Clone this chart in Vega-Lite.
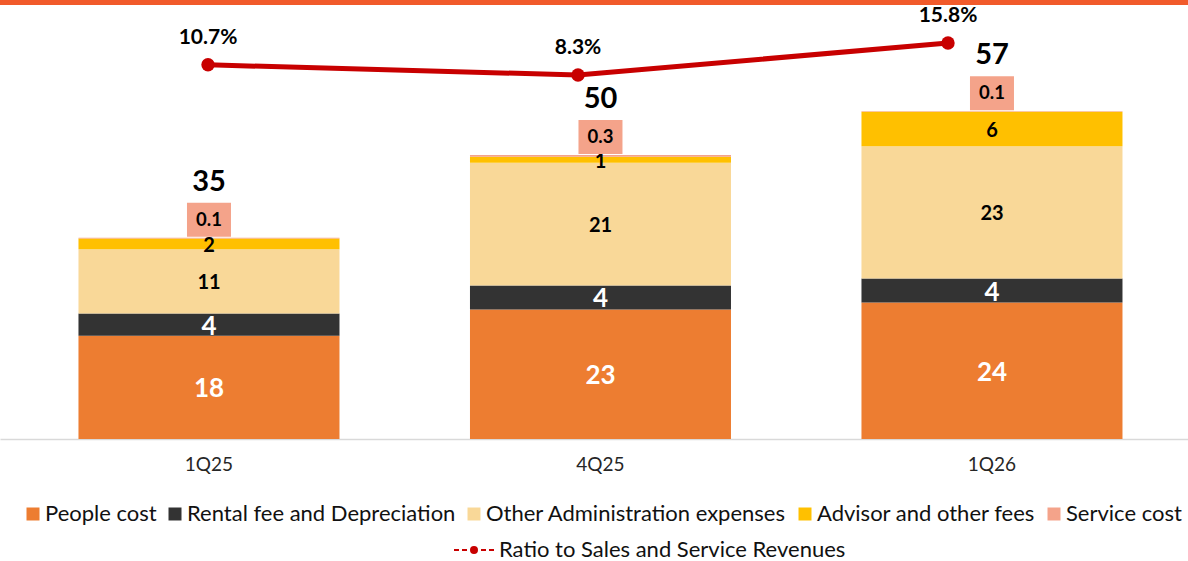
{
  "$schema": "https://vega.github.io/schema/vega-lite/v6.json",
  "width": 1188,
  "height": 439,
  "autosize": {"type": "none"},
  "padding": {"left": 0, "top": 0, "right": 0, "bottom": 122},
  "background": "white",
  "config": {
    "view": {"stroke": null},
    "font": "Lato",
    "text": {"font": "Lato"}
  },
  "datasets": {
    "costs": [
      {"q": "1Q25", "cat": "People cost", "k": 1, "value": 18},
      {"q": "1Q25", "cat": "Rental fee and Depreciation", "k": 2, "value": 3.9},
      {"q": "1Q25", "cat": "Other Administration expenses", "k": 3, "value": 11.2},
      {"q": "1Q25", "cat": "Advisor and other fees", "k": 4, "value": 1.9},
      {"q": "1Q25", "cat": "Service cost", "k": 5, "value": 0.1},
      {"q": "4Q25", "cat": "People cost", "k": 1, "value": 22.6},
      {"q": "4Q25", "cat": "Rental fee and Depreciation", "k": 2, "value": 4.2},
      {"q": "4Q25", "cat": "Other Administration expenses", "k": 3, "value": 21.4},
      {"q": "4Q25", "cat": "Advisor and other fees", "k": 4, "value": 1.05},
      {"q": "4Q25", "cat": "Service cost", "k": 5, "value": 0.3},
      {"q": "1Q26", "cat": "People cost", "k": 1, "value": 23.8},
      {"q": "1Q26", "cat": "Rental fee and Depreciation", "k": 2, "value": 4.2},
      {"q": "1Q26", "cat": "Other Administration expenses", "k": 3, "value": 23.1},
      {"q": "1Q26", "cat": "Advisor and other fees", "k": 4, "value": 6.0},
      {"q": "1Q26", "cat": "Service cost", "k": 5, "value": 0.1}
    ],
    "ratio": [
      {"q": "1Q25", "ratio": 0.107},
      {"q": "4Q25", "ratio": 0.083},
      {"q": "1Q26", "ratio": 0.158}
    ]
  },
  "layer": [
    {
      "data": {"name": "costs"},
      "transform": [
        {"stack": "value", "groupby": ["q"], "sort": [{"field": "k", "order": "ascending"}], "as": ["v0", "v1"]}
      ],
      "layer": [
        {
          "mark": {"type": "bar"},
          "encoding": {
            "x": {
              "field": "q", "type": "nominal", "sort": ["1Q25", "4Q25", "1Q26"],
              "scale": {"type": "band", "paddingInner": 0.3333, "paddingOuter": 0.1839, "align": 0.545},
              "axis": {
                "title": null, "ticks": false, "grid": false, "labelAngle": 0,
                "labelFont": "Lato", "labelFontSize": 19, "labelColor": "#262626", "labelPadding": 16,
                "domainColor": "#D9D9D9", "domainWidth": 1.5
              }
            },
            "y": {"field": "v1", "type": "quantitative", "scale": {"domain": [0, 76.6], "nice": false, "zero": false}, "axis": null},
            "y2": {"field": "v0"},
            "color": {
              "field": "cat", "type": "nominal",
              "scale": {
                "domain": ["People cost", "Rental fee and Depreciation", "Other Administration expenses", "Advisor and other fees", "Service cost"],
                "range": ["#ED7D31", "#333333", "#F9D898", "#FFC000", "#F4A38A"]
              },
              "legend": {
                "orient": "none", "legendX": 22, "legendY": 503, "direction": "horizontal", "title": null,
                "symbolType": "square", "symbolSize": 169, "symbolStrokeWidth": 0, "symbolOpacity": 1,
                "labelFont": "Lato", "labelFontSize": 22, "labelColor": "#111111", "labelOffset": 1,
                "columnPadding": 7, "labelLimit": 400
              }
            }
          }
        },
        {
          "transform": [
            {"filter": "datum.k <= 4"},
            {"fold": ["v0", "v1"], "as": ["edge", "pos"]},
            {"aggregate": [{"op": "mean", "field": "pos", "as": "mid"}], "groupby": ["q", "cat", "k", "value"]}
          ],
          "mark": {"type": "text", "fontWeight": "bold", "baseline": "middle", "align": "center", "dy": 2},
          "encoding": {
            "x": {"field": "q", "type": "nominal", "sort": ["1Q25", "4Q25", "1Q26"]},
            "y": {"field": "mid", "type": "quantitative"},
            "text": {"field": "value", "type": "quantitative", "format": ".0f"},
            "color": {"condition": {"test": "datum.k <= 2", "value": "white"}, "value": "black"},
            "size": {"condition": {"test": "datum.k <= 2", "value": 26}, "value": 20}
          }
        },
        {
          "transform": [{"filter": "datum.k == 5"}],
          "mark": {"type": "point", "filled": true, "shape": "M-1,-0.773H1V0.773H-1Z", "size": 1936, "color": "#F4A38A", "opacity": 1, "yOffset": -18},
          "encoding": {
            "x": {"field": "q", "type": "nominal", "sort": ["1Q25", "4Q25", "1Q26"]},
            "y": {"field": "v1", "type": "quantitative"}
          }
        },
        {
          "transform": [{"filter": "datum.k == 5"}],
          "mark": {"type": "text", "fontWeight": "bold", "fontSize": 18.5, "color": "black", "baseline": "middle", "yOffset": -18},
          "encoding": {
            "x": {"field": "q", "type": "nominal", "sort": ["1Q25", "4Q25", "1Q26"]},
            "y": {"field": "v1", "type": "quantitative"},
            "text": {"field": "value", "type": "quantitative", "format": ".1f"}
          }
        },
        {
          "transform": [{"filter": "datum.k == 5"}],
          "mark": {"type": "text", "fontWeight": "bold", "fontSize": 29, "color": "black", "baseline": "middle", "yOffset": -56},
          "encoding": {
            "x": {"field": "q", "type": "nominal", "sort": ["1Q25", "4Q25", "1Q26"]},
            "y": {"field": "v1", "type": "quantitative"},
            "text": {"field": "v1", "type": "quantitative", "format": ".0f"}
          }
        },
        {
          "mark": {"type": "rule", "color": "#F15A2B", "strokeWidth": 10},
          "encoding": {"y": {"datum": 76.6, "type": "quantitative"}}
        }
      ]
    },
    {
      "data": {"name": "ratio"},
      "encoding": {
        "x": {
          "field": "q", "type": "nominal", "sort": ["1Q25", "4Q25", "1Q26"],
          "scale": {"type": "point", "padding": 0.6054, "align": 0.4643},
          "axis": null
        },
        "y": {"field": "ratio", "type": "quantitative", "scale": {"domain": [-0.769, 0.2587], "nice": false, "zero": false}, "axis": null}
      },
      "layer": [
        {
          "mark": {"type": "line", "strokeWidth": 5},
          "encoding": {
            "stroke": {
              "datum": "Ratio to Sales and Service Revenues", "type": "nominal",
              "scale": {"range": ["#C80000"]},
              "legend": {
                "orient": "none", "legendX": 453, "legendY": 529, "title": null,
                "symbolType": "M-1,0H-0.75M-0.6,0H-0.35M0.35,0H0.6M0.75,0H1M0.15,0A0.15,0.15 0 1,1 -0.15,0A0.15,0.15 0 1,1 0.15,0Z",
                "symbolSize": 1600, "symbolStrokeWidth": 2, "symbolFillColor": "#C80000", "symbolStrokeColor": "#C80000",
                "labelFont": "Lato", "labelFontSize": 22, "labelColor": "#111111", "labelOffset": 4, "labelLimit": 500,
                "encode": {"symbols": {"update": {"fill": {"value": "#C80000"}, "stroke": {"value": "#C80000"}}}}
              }
            }
          }
        },
        {
          "mark": {"type": "point", "filled": true, "size": 180, "color": "#C80000", "opacity": 1}
        },
        {
          "mark": {"type": "text", "fontWeight": "bold", "fontSize": 21, "color": "black", "baseline": "middle", "dy": -27},
          "encoding": {
            "text": {"field": "ratio", "type": "quantitative", "format": ".1%"}
          }
        }
      ]
    }
  ],
  "resolve": {"scale": {"x": "independent", "y": "independent", "color": "independent"}}
}
